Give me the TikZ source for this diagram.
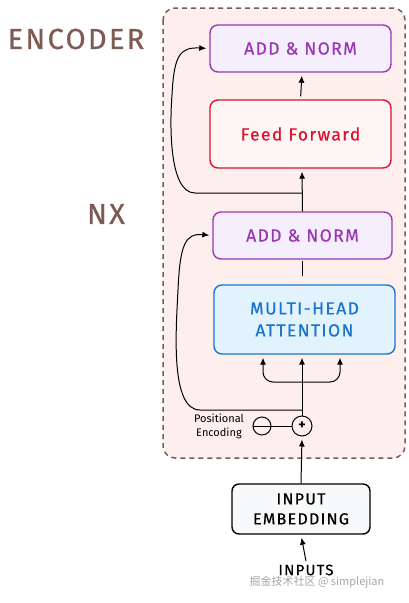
\documentclass[tikz,border=0pt]{standalone}
\usepackage{fontspec}
\setmainfont{Fira Sans}
\newfontfamily\sketchfont[LetterSpace=8, FakeBold=0.6]{Fira Sans}
\newfontfamily\cjkfont{Noto Sans CJK SC}
\usetikzlibrary{arrows.meta}

\definecolor{encbrown}{HTML}{7D5B52}
\definecolor{encfill}{HTML}{FCEFED}
\definecolor{normpurple}{HTML}{9C36B5}
\definecolor{normfill}{HTML}{F5EFFD}
\definecolor{ffred}{HTML}{E0102F}
\definecolor{fffill}{HTML}{FFF6F6}
\definecolor{attblue}{HTML}{1A74CC}
\definecolor{attfill}{HTML}{E3F3FD}
\definecolor{embfill}{HTML}{F8F9FA}

\begin{document}
\begin{tikzpicture}[
            x=1pt, y=-1pt,
            block/.style={draw, rounded corners=8pt, line width=1.4pt,
                minimum width=181pt, align=center, inner sep=2pt},
            normbox/.style={block, draw=normpurple, fill=normfill, text=normpurple,
                minimum height=47pt, font=\sketchfont\fontsize{17.5}{19}\selectfont},
            arr/.style={-{Latex[length=7pt,width=6pt]}, line width=1pt, shorten >=3pt},
            wire/.style={line width=1pt}
        ]
        \useasboundingbox (0,0) rectangle (409,603);
        % Encoder frame
        \draw[encbrown, fill=encfill, line width=1.5pt, dash pattern=on 5pt off 4pt,
            rounded corners=12pt] (163,8) rectangle (405,458);
        \node[text=encbrown, font=\sketchfont\fontsize{29}{32}\selectfont] (enc) at (76,39) {ENCODER};
        \node[text=encbrown, font=\sketchfont\fontsize{29}{32}\selectfont] (nx) at (106,214) {NX};

        % Blocks
        \node[normbox] (addtop) at (300.5,48.5) {ADD \& NORM};
        \node[block, draw=ffred, fill=fffill, text=ffred, minimum height=68pt,
            font=\sketchfont\fontsize{17.5}{20}\selectfont] (ff) at (300.5,134) {Feed Forward};
        \node[normbox, minimum width=179pt] (addmid) at (302.5,235.5) {ADD \& NORM};
        \node[block, draw=attblue, fill=attfill, text=attblue, minimum height=69pt,
            font=\sketchfont\fontsize{17.5}{22}\selectfont] (mha) at (304.5,319.5) {MULTI-HEAD\\ATTENTION};
        \node[block, draw=black, fill=embfill, minimum width=138pt, minimum height=50pt,
            rounded corners=7pt, font=\sketchfont\fontsize{16}{20}\selectfont] (emb) at (301,509) {INPUT\\EMBEDDING};

        % Positional encoding
        \node[draw, circle, wire, minimum size=20pt, inner sep=0pt,
            font=\bfseries\fontsize{14}{14}\selectfont] (plus) at (302,426) {+};
        \node[draw, circle, wire, minimum size=18pt, inner sep=0pt] (pe) at (262,426) {};
        \node[align=center, font=\fontsize{11}{14}\selectfont] (petext) at (219,426) {Positional\\Encoding};
        \node[font=\sketchfont\fontsize{15}{15}\selectfont] (inputs) at (306,570) {INPUTS};

        % Connectors
        \coordinate (br1) at (302,193);
        \coordinate (br2) at (302,382);
        \coordinate (br3) at (302,410);
        \draw[arr] (inputs.north) -- (emb.south);
        \draw[arr] (emb.north) -- (plus.south);
        \draw[wire] (pe.west) -- (plus.west);
        \draw[arr] (plus.north) -- (plus.north |- mha.south);
        \foreach \side in {-39,38}
            \draw[arr, rounded corners=10pt] (br2) -| ([xshift=\side pt]br2 |- mha.south);
        \draw[wire, shorten <=8pt, shorten >=1pt] (br1 |- mha.north) -- (br1 |- addmid.south);
        \draw[arr] (addmid.north) -- (br1 |- ff.south);
        \draw[arr, shorten <=3pt] (ff.north) -- (br1 |- addtop.south);
        % Residual paths
        \draw[arr] (br3) -- (200,410) .. controls (170,410) and (176,330) .. (178,290)
            .. controls (180,245) and (185,233) .. (addmid.west);
        \draw[arr] (br1) -- (195,193) .. controls (168,193) and (170,120) .. (172,95)
            .. controls (174,55) and (180,47) .. (addtop.west);

        % Watermark
        \node[text=gray!70, font=\cjkfont\fontsize{11}{11}\selectfont] (mark) at (317,582) {掘金技术社区 @ simplejian};
\end{tikzpicture}
\end{document}
